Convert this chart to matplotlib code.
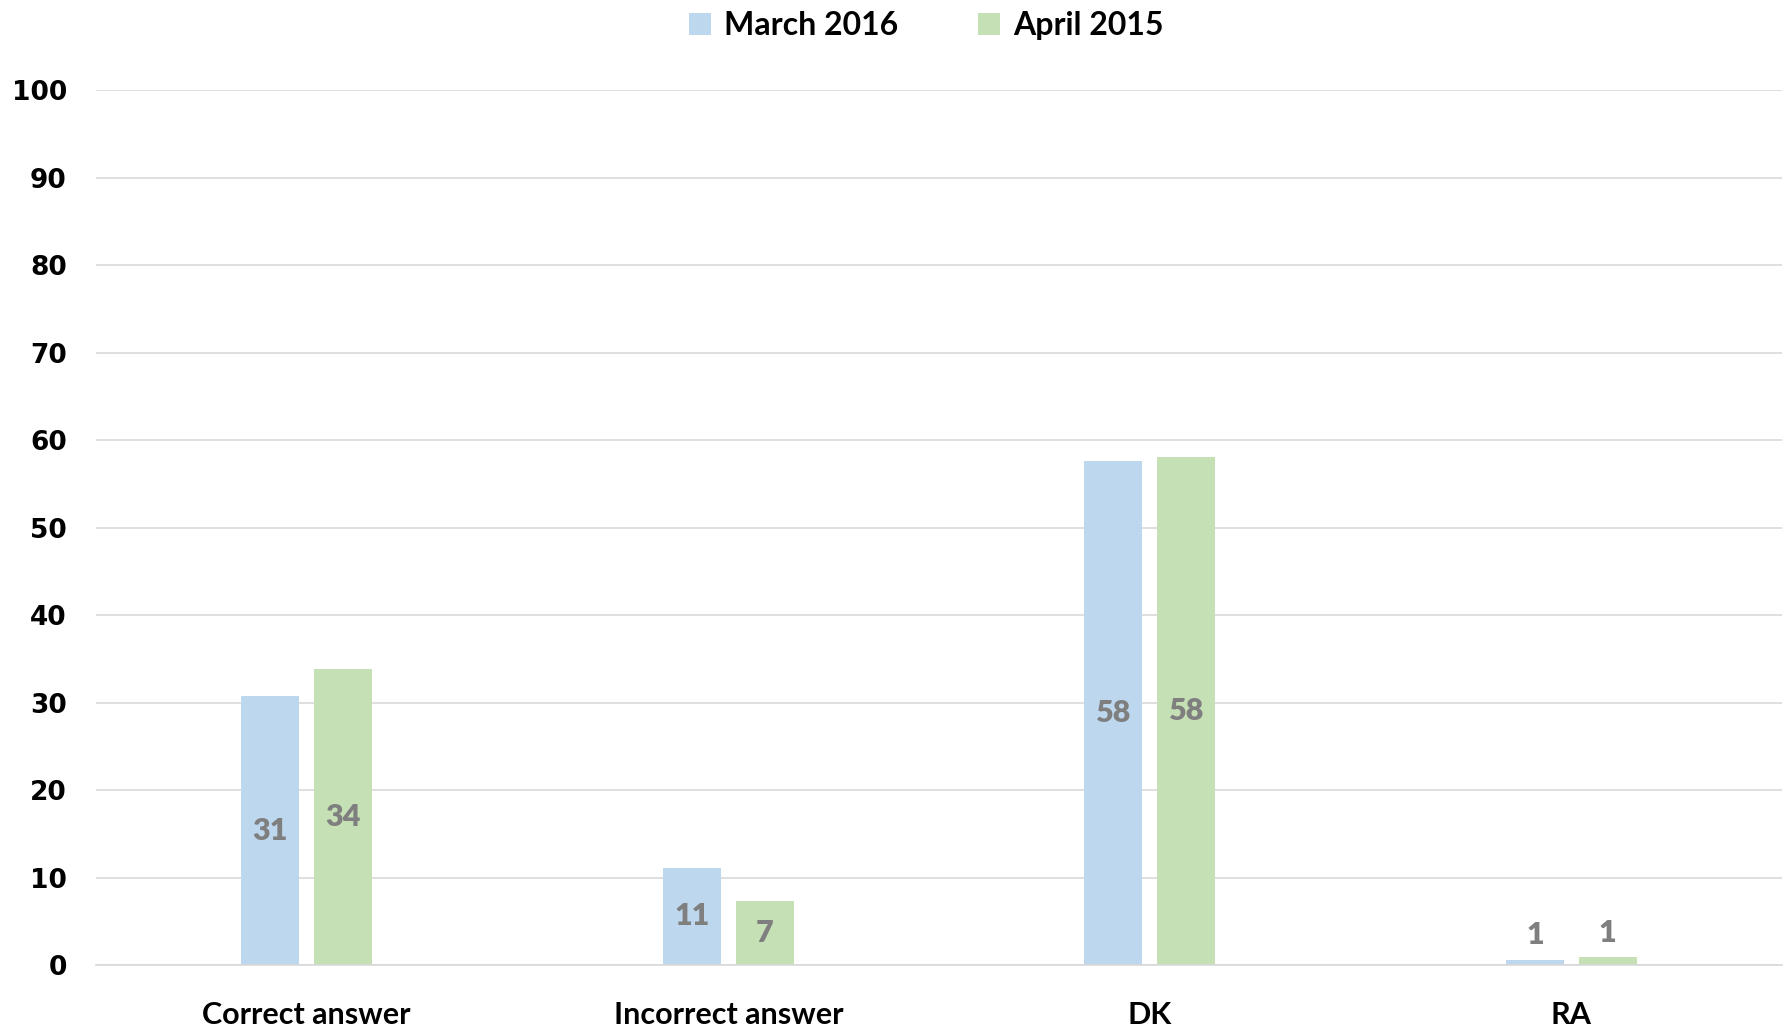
import numpy as np
import matplotlib.pyplot as plt

# data
categories = ['Correct answer', 'Incorrect answer', 'DK', 'RA']
march_2016 = [30.7, 11.1, 57.6, 0.6]
april_2015 = [33.8, 7.3, 58.1, 0.9]
series_names = ['March 2016', 'April 2015']

blue = '#BDD7EE'
green = '#C5E0B4'

fig = plt.figure(figsize=(17.91, 10.30), dpi=100)
ax = fig.add_axes([96 / 1791, 1 - 965 / 1030, 1686 / 1791, 875 / 1030])

x = np.arange(len(categories))
w = 0.138
off = 0.0865
b1 = ax.bar(x - off, march_2016, w, color=blue, label=series_names[0], zorder=2)
b2 = ax.bar(x + off, april_2015, w, color=green, label=series_names[1], zorder=2)

# value labels: centred in the bar, above it when the bar is too short
for bars, vals in [(b1, march_2016), (b2, april_2015)]:
    for rect, v in zip(bars, vals):
        cx = rect.get_x() + rect.get_width() / 2
        if v > 3:
            ax.text(cx, v / 2, f'{round(v):d}', ha='center', va='center',
                    fontsize=22, fontweight='heavy', color='#7F7F7F', family='Lato')
        else:
            ax.text(cx, v + 1.2, f'{round(v):d}', ha='center', va='bottom',
                    fontsize=22, fontweight='heavy', color='#7F7F7F', family='Lato')

ax.set_xlim(-0.5, 3.5)
ax.set_ylim(0, 100)
ax.set_yticks(range(0, 101, 10))
ax.set_xticks(x)
ax.set_xticklabels(categories, fontsize=22, fontweight='bold', family='Lato')
for t in ax.get_yticklabels():
    t.set_fontsize(19)
    t.set_fontweight('bold')
ax.tick_params(axis='both', length=0)
ax.tick_params(axis='y', pad=21)
ax.tick_params(axis='x', pad=26)

ax.grid(axis='y', color='#D9D9D9', linewidth=1.2, zorder=0)
for s in ['top', 'right', 'left']:
    ax.spines[s].set_visible(False)
ax.spines['bottom'].set_color('#D9D9D9')
ax.spines['bottom'].set_linewidth(1.2)

leg = fig.legend(loc='upper center', bbox_to_anchor=(0.517, 1.017), ncol=2, frameon=False,
                 prop={'family': 'Lato', 'weight': 'bold', 'size': 23},
                 handlelength=0.7, handleheight=0.7, handletextpad=0.4, columnspacing=2.5)

fig.savefig('out.png', dpi=100)
